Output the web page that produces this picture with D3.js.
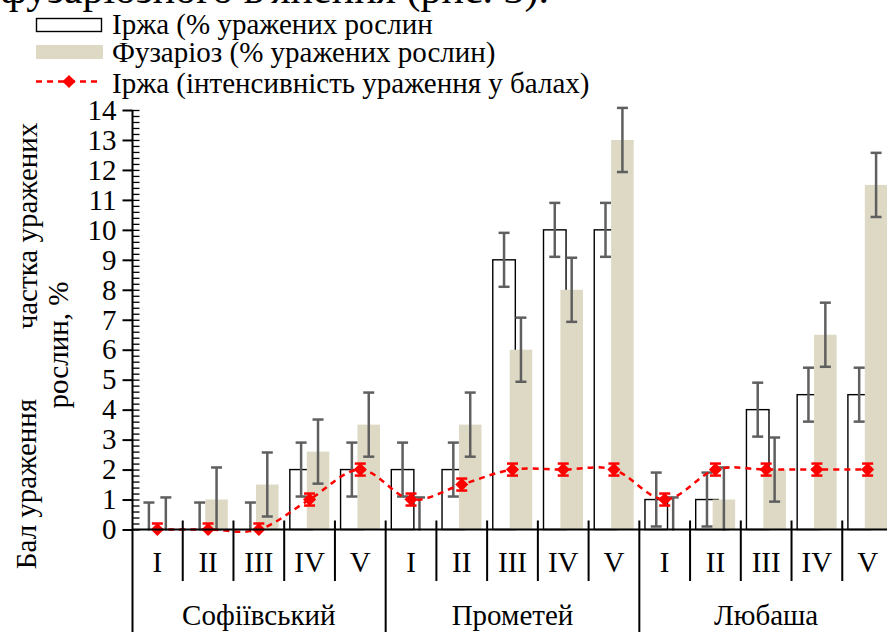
<!DOCTYPE html>
<html>
<head>
<meta charset="utf-8">
<script src="https://cdn.jsdelivr.net/npm/d3@7"></script>
<style>
  html, body { margin: 0; padding: 0; background: #fff; }
  svg { display: block; }
</style>
</head>
<body>
<svg id="chart" width="887" height="632" font-family="Liberation Serif, Times New Roman, serif"></svg>
<script>
// Сорти та строки сівби
const varieties = ["Софіївський", "Прометей", "Любаша"];
const terms = ["I", "II", "III", "IV", "V"];

// Іржа, % уражених рослин (по 5 строків для кожного сорту)
const rustPct = [0, 0, 0, 2, 2,   2, 2, 9, 10, 10,   1, 1, 4, 4.5, 4.5];
const rustPctErr = [0.9, 0.9, 0.9, 0.9, 0.9,   0.9, 0.9, 0.9, 0.9, 0.9,   0.9, 0.9, 0.9, 0.9, 0.9];

// Фузаріоз, % уражених рослин
const fusPct = [0, 1, 1.5, 2.6, 3.5,   0, 3.5, 6, 8, 13,   0, 1, 2, 6.5, 11.5];
const fusPctErr = [1.07, 1.07, 1.07, 1.07, 1.07,   1.07, 1.07, 1.07, 1.07, 1.07,   1.07, 1.07, 1.07, 1.07, 1.07];

// Іржа, інтенсивність ураження у балах
const rustScore = [0, 0, 0, 1, 2,   1, 1.5, 2, 2, 2,   1, 2, 2, 2, 2];
const rustScoreErr = [0.2, 0.2, 0.2, 0.2, 0.2,   0.2, 0.2, 0.2, 0.2, 0.2,   0.2, 0.2, 0.2, 0.2, 0.2];

const yTicks = [0, 1, 2, 3, 4, 5, 6, 7, 8, 9, 10, 11, 12, 13, 14];

const legendLabels = [
  "Іржа (% уражених рослин",
  "Фузаріоз (% уражених рослин)",
  "Іржа (інтенсивність ураження у балах)"
];

const BEIGE = "#DDD9C4";
const ERR = "#5f5f5f";
const RED = "#FF0000";
const FONT = 29;
const FAMILY = "'Liberation Serif', 'Times New Roman', serif";

const svg = d3.select("#chart");

// one row per variety x term
const rows = [];
varieties.forEach((v, vi) => terms.forEach((t, ti) => {
  const i = vi * terms.length + ti;
  rows.push({
    id: i, variety: v, term: t,
    rust: rustPct[i], rustErr: rustPctErr[i],
    fus: fusPct[i], fusErr: fusPctErr[i],
    score: rustScore[i], scoreErr: rustScoreErr[i]
  });
}));

const plotLeft = 132, plotRight = 893, plotTop = 110, plotBottom = 529.5;

const x = d3.scaleBand().domain(rows.map(d => d.id)).range([plotLeft, plotRight]).padding(0);
const y = d3.scaleLinear().domain([0, 14]).range([plotBottom, plotTop]);

// bar layout: gap 50%, overlap 25%
const bw = x.bandwidth() / 2.25;
const rustX = d => x(d.id) + 0.25 * bw;
const fusX = d => x(d.id) + bw;
const center = d => x(d.id) + x.bandwidth() / 2;

svg.append("defs").append("clipPath").attr("id", "plotClip")
  .append("rect").attr("x", plotLeft).attr("y", 0)
  .attr("width", 887 - plotLeft).attr("height", plotBottom + 1);

// text line cut by the top edge
svg.append("text").attr("x", 0).attr("y", 3).attr("font-size", 42)
  .text("фузаріозного в'янення (рис. 3).");

// y axis: major ticks crossing, minor ticks inside
const yAxis = svg.append("g").attr("transform", `translate(${plotLeft + 0.5},0)`)
  .call(d3.axisLeft(y).tickValues(yTicks).tickSize(10).tickPadding(6).tickFormat(d3.format("d")));
yAxis.attr("font-family", null);
yAxis.select(".domain").remove();
yAxis.selectAll(".tick line").attr("stroke", "#000").attr("stroke-width", 2);
yAxis.selectAll(".tick text").attr("font-size", FONT).attr("fill", "#000");

const minorTicks = d3.range(0, 14.001, 0.2);
svg.append("g").attr("transform", `translate(${plotLeft + 0.5},0)`)
  .call(d3.axisRight(y).tickValues(minorTicks).tickSize(7).tickFormat(""))
  .call(g => g.select(".domain").remove())
  .selectAll(".tick line").attr("stroke", "#000").attr("stroke-width", 1.3);

// bars
const barG = svg.append("g");
barG.selectAll("rect.rust").data(rows).join("rect").attr("class", "rust")
  .attr("x", rustX).attr("width", bw)
  .attr("y", d => y(d.rust)).attr("height", d => y(0) - y(d.rust))
  .attr("fill", "#fff").attr("stroke", "#000").attr("stroke-width", 1.4);
barG.selectAll("rect.fus").data(rows).join("rect").attr("class", "fus")
  .attr("x", fusX).attr("width", bw)
  .attr("y", d => y(d.fus)).attr("height", d => y(0) - y(d.fus))
  .attr("fill", BEIGE);

// error bars
function errorBars(g, cx, val, err, color, cap) {
  const e = g.selectAll(null).data(rows).join("g");
  e.append("line").attr("x1", cx).attr("x2", cx)
    .attr("y1", d => y(val(d) + err(d))).attr("y2", d => y(val(d) - err(d)));
  e.append("line").attr("x1", d => cx(d) - cap).attr("x2", d => cx(d) + cap)
    .attr("y1", d => y(val(d) + err(d))).attr("y2", d => y(val(d) + err(d)));
  e.append("line").attr("x1", d => cx(d) - cap).attr("x2", d => cx(d) + cap)
    .attr("y1", d => y(val(d) - err(d))).attr("y2", d => y(val(d) - err(d)));
  e.selectAll("line").attr("stroke", color).attr("stroke-width", 2.5);
}
const errG = svg.append("g").attr("clip-path", "url(#plotClip)");
errorBars(errG, d => rustX(d) + bw / 2, d => d.rust, d => d.rustErr, ERR, 5.5);
errorBars(errG, d => fusX(d) + bw / 2, d => d.fus, d => d.fusErr, ERR, 5.5);

// smoothed dashed line of the disease score
const line = d3.line().x(center).y(d => y(d.score)).curve(d3.curveCardinal.tension(0));
svg.append("path").datum(rows).attr("d", line)
  .attr("fill", "none").attr("stroke", RED).attr("stroke-width", 2.5)
  .attr("stroke-dasharray", "6,5");

const scoreErrG = svg.append("g").attr("clip-path", "url(#plotClip)");
errorBars(scoreErrG, center, d => d.score, d => d.scoreErr, RED, 5.5);

const diamond = d3.symbol().type(d3.symbolDiamond2).size(110);
svg.append("g").selectAll("path").data(rows).join("path")
  .attr("transform", d => `translate(${center(d)},${y(d.score)})`)
  .attr("d", diamond).attr("fill", RED);

// x axis and category dividers
const ax = svg.append("g").attr("stroke", "#000").attr("stroke-width", 2);
ax.append("line").attr("x1", plotLeft).attr("x2", 887).attr("y1", plotBottom).attr("y2", plotBottom);
ax.append("line").attr("x1", plotLeft + 0.5).attr("x2", plotLeft + 0.5).attr("y1", plotTop).attr("y2", 632);
ax.selectAll(null).data(rows.filter(d => d.id % terms.length !== 0)).join("line")
  .attr("x1", d => x(d.id)).attr("x2", d => x(d.id))
  .attr("y1", plotBottom - 9).attr("y2", 581);
ax.selectAll(null).data(d3.range(1, varieties.length + 1)).join("line")
  .attr("x1", k => x.range()[0] + k * terms.length * x.bandwidth())
  .attr("x2", k => x.range()[0] + k * terms.length * x.bandwidth())
  .attr("y1", plotBottom - 9).attr("y2", 632);

svg.append("g").selectAll("text").data(rows).join("text")
  .attr("x", center).attr("y", 572).attr("text-anchor", "middle")
  .attr("font-size", FONT).text(d => d.term);

svg.append("g").selectAll("text").data(varieties).join("text")
  .attr("x", (d, i) => x(i * terms.length) + terms.length * x.bandwidth() / 2)
  .attr("y", 625).attr("text-anchor", "middle")
  .attr("font-size", FONT).text(d => d);

// axis titles
const titles = [
  { t: "частка уражених", cx: 27, cy: 226 },
  { t: "рослин, %", cx: 58, cy: 345 },
  { t: "Бал ураження", cx: 26, cy: 484 }
];
svg.append("g").selectAll("text").data(titles).join("text")
  .attr("transform", d => `translate(${d.cx},${d.cy}) rotate(-90)`)
  .attr("text-anchor", "middle").attr("dy", "0.35em")
  .attr("font-size", FONT).text(d => d.t);

// legend
const lg = svg.append("g");
lg.append("rect").attr("x", 36.5).attr("y", 18.5).attr("width", 65).attr("height", 13)
  .attr("fill", "#fff").attr("stroke", "#000").attr("stroke-width", 1.4);
lg.append("rect").attr("x", 36).attr("y", 45).attr("width", 67).attr("height", 14)
  .attr("fill", BEIGE);
lg.append("line").attr("x1", 36).attr("x2", 100).attr("y1", 81.5).attr("y2", 81.5)
  .attr("stroke", RED).attr("stroke-width", 2.5).attr("stroke-dasharray", "6,5");
lg.append("path").attr("transform", "translate(69,81.5)").attr("d", diamond).attr("fill", RED);
lg.selectAll("text").data(legendLabels).join("text")
  .attr("x", 112).attr("y", (d, i) => [34, 62, 93][i])
  .attr("font-size", FONT).text(d => d);

// every text uses the serif face
svg.selectAll("text").attr("font-family", FAMILY).style("font-family", FAMILY);
</script>
</body>
</html>
